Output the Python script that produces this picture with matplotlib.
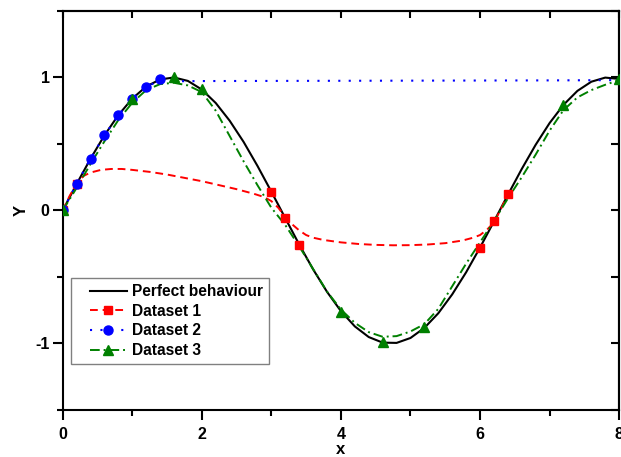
import matplotlib
matplotlib.use("Agg")
import matplotlib.pyplot as plt
from matplotlib.lines import Line2D
from matplotlib.legend_handler import HandlerLine2D
from matplotlib.ticker import MultipleLocator, NullFormatter

plt.rcParams['font.family'] = ['Liberation Sans', 'DejaVu Sans']
plt.rcParams['font.weight'] = 'bold'
plt.rcParams['axes.unicode_minus'] = False

# perfect behaviour
x_curve = [0.0, 0.2, 0.4, 0.6, 0.8, 1.0, 1.2, 1.4, 1.6, 1.8,
           2.0, 2.2, 2.4, 2.6, 2.8, 3.0, 3.2, 3.4, 3.6, 3.8,
           4.0, 4.2, 4.4, 4.6, 4.8, 5.0, 5.2, 5.4, 5.6, 5.8,
           6.0, 6.2, 6.4, 6.6, 6.8, 7.0, 7.2, 7.4, 7.6, 7.8, 8.0]
y_perfect = [0.0, 0.199, 0.389, 0.565, 0.717, 0.841, 0.932, 0.985, 1.0, 0.974,
             0.909, 0.808, 0.675, 0.516, 0.335, 0.141, -0.058, -0.256, -0.443, -0.612,
             -0.757, -0.872, -0.952, -0.994, -0.996, -0.959, -0.883, -0.773, -0.631, -0.465,
             -0.279, -0.083, 0.117, 0.312, 0.494, 0.657, 0.794, 0.899, 0.968, 0.999, 0.989]

# dataset 1: points and red dashed curve
x_d1 = [0.0, 0.2, 3.0, 3.2, 3.4, 6.0, 6.2, 6.4]
y_d1 = [0.0, 0.2, 0.14, -0.06, -0.26, -0.28, -0.08, 0.12]
x_d1_fit = [0.0, 0.1, 0.2, 0.3, 0.4, 0.55, 0.7, 0.85, 1.0, 1.25, 1.5, 1.75, 2.0, 2.25,
            2.5, 2.75, 2.9, 3.0, 3.1, 3.2, 3.3, 3.4, 3.5, 3.6, 3.75, 4.0, 4.25, 4.5,
            4.75, 5.0, 5.25, 5.5, 5.75, 5.9, 6.0, 6.1, 6.2, 6.3, 6.4]
y_d1_fit = [0.0, 0.11, 0.2, 0.26, 0.285, 0.305, 0.312, 0.312, 0.305, 0.29, 0.27, 0.245,
            0.22, 0.19, 0.16, 0.125, 0.1, 0.07, 0.02, -0.05, -0.105, -0.15, -0.185, -0.205,
            -0.222, -0.24, -0.252, -0.259, -0.262, -0.261, -0.256, -0.246, -0.226, -0.205,
            -0.185, -0.145, -0.09, 0.01, 0.12]

# dataset 2: points and blue dotted curve
x_d2 = [0.0, 0.2, 0.4, 0.6, 0.8, 1.0, 1.2, 1.4]
y_d2 = [0.0, 0.2, 0.39, 0.565, 0.717, 0.841, 0.932, 0.985]
x_d2_fit = [0.0, 0.2, 0.4, 0.6, 0.8, 1.0, 1.2, 1.4, 1.6, 1.8, 2.0, 3.0, 4.0, 5.0, 6.0, 7.0, 8.0]
y_d2_fit = [0.0, 0.2, 0.39, 0.565, 0.717, 0.841, 0.932, 0.975, 0.972, 0.972, 0.973,
            0.974, 0.975, 0.976, 0.977, 0.978, 0.98]

# dataset 3: points and green dash-dot curve
x_d3 = [0.0, 1.0, 1.6, 2.0, 4.0, 4.6, 5.2, 7.2, 8.0]
y_d3 = [0.0, 0.84, 1.0, 0.91, -0.76, -0.99, -0.88, 0.79, 0.99]
y_d3_fit = [0.0, 0.17, 0.35, 0.52, 0.68, 0.81, 0.905, 0.95, 0.96, 0.94,
            0.89, 0.75, 0.56, 0.37, 0.19, 0.02, -0.11, -0.27, -0.44, -0.61,
            -0.745, -0.845, -0.915, -0.95, -0.945, -0.91, -0.855, -0.74, -0.57, -0.40,
            -0.24, -0.08, 0.09, 0.25, 0.42, 0.60, 0.755, 0.85, 0.905, 0.945, 0.98]

fig = plt.figure(figsize=(6.21, 4.57), dpi=100)
ax = fig.add_axes([0.101, 0.103, 0.896, 0.873])

ax.plot(x_curve, y_perfect, color='black', lw=1.5, zorder=3)
ax.plot(x_d1_fit, y_d1_fit, color='red', lw=1.4, dashes=(4, 2.5), zorder=3)
ax.plot(x_d2_fit, y_d2_fit, color='blue', lw=1.5, dashes=(1, 4), zorder=3)
ax.plot(x_curve, y_d3_fit, color='green', lw=1.4, dashes=(5, 2, 1, 2), zorder=3)

ax.plot(x_d1, y_d1, ls='none', marker='s', ms=6, color='red', mec='red', zorder=4)
ax.plot(x_d2, y_d2, ls='none', marker='o', ms=6.5, color='blue', mec='blue', zorder=4)
ax.plot(x_d3, y_d3, ls='none', marker='^', ms=6.5, color='green', mec='green', zorder=5)

ax.set_xlim(0, 8)
ax.set_ylim(-1.5, 1.5)
ax.xaxis.set_major_locator(MultipleLocator(2))
ax.xaxis.set_minor_locator(MultipleLocator(1))
ax.yaxis.set_major_locator(MultipleLocator(1))
ax.yaxis.set_minor_locator(MultipleLocator(0.5))

for s in ax.spines.values():
    s.set_linewidth(1.5)

ax.tick_params(which='major', direction='out', length=7, width=1.5, labelsize=11.5, pad=2.5)
ax.tick_params(which='minor', direction='out', length=4, width=1.5)
ax.tick_params(axis='x', which='major', pad=5)

# mirror axes on top and right with inward ticks, no labels
top = ax.secondary_xaxis('top')
top.xaxis.set_major_locator(MultipleLocator(1))
top.xaxis.set_major_formatter(NullFormatter())
top.tick_params(direction='in', length=5, width=1.5)
right = ax.secondary_yaxis('right')
right.yaxis.set_major_locator(MultipleLocator(0.5))
right.yaxis.set_major_formatter(NullFormatter())
right.tick_params(direction='in', length=6, width=1.5)
for sec in (top, right):
    for s in sec.spines.values():
        s.set_linewidth(1.5)

ax.set_xlabel('x', fontsize=12, fontweight='bold', labelpad=0)
ax.set_ylabel('Y', fontsize=12, fontweight='bold', labelpad=5)

handles = [
    Line2D([], [], color='black', lw=1.5),
    Line2D([], [], color='red', lw=1.4, dashes=(4, 2.5), marker='s', ms=6),
    Line2D([], [], color='blue', lw=1.5, dashes=(1, 4), marker='o', ms=6.5),
    Line2D([], [], color='green', lw=1.4, dashes=(5, 2, 1, 2), marker='^', ms=6.5),
]
labels = ['Perfect behaviour', 'Dataset 1', 'Dataset 2', 'Dataset 3']
leg = ax.legend(handles, labels, loc='lower left', bbox_to_anchor=(0.014, 0.115),
                prop={'size': 11.2, 'weight': 'bold'}, handlelength=3.25,
                handletextpad=0.32, labelspacing=0.3, borderpad=0.38,
                borderaxespad=0, fancybox=False, edgecolor='gray', framealpha=1,
                handler_map={Line2D: HandlerLine2D(xpad=0.87)})
leg.get_frame().set_linewidth(1.0)

fig.savefig('out.png', dpi=100)
